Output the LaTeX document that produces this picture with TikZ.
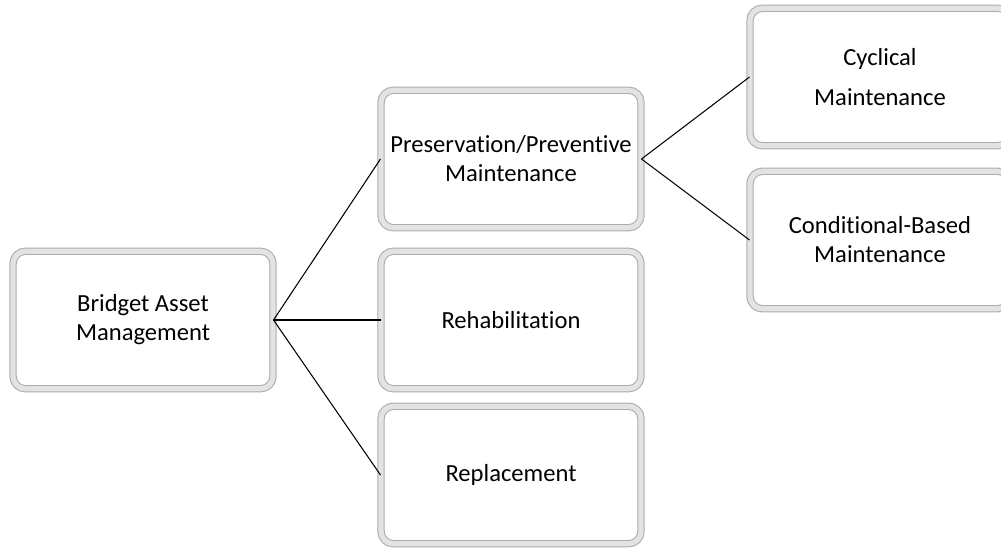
\documentclass[tikz,border=0pt]{standalone}
\usepackage{fontspec}
\setmainfont{Carlito}[Ligatures=NoCommon]
\usetikzlibrary{positioning, calc}

\begin{document}
\begin{tikzpicture}[x=0.02cm, y=-0.02cm,
    blockbox/.style={draw=gray!65, double=gray!22, double distance=3pt, line width=0.6pt,
          fill=white, rounded corners=7pt,
          minimum width=5.2cm, minimum height=2.75cm,
          font=\fontsize{14}{16.5}\selectfont, align=center}]
    \useasboundingbox (0,0) rectangle (1001,548);
    \clip (0,0) rectangle (1001,548);
    % Raiz
    \node[blockbox] (bam) at (143,320) {Bridget Asset\\Management};
    % Segundo nível
    \node[blockbox] (preserv) at (511,159) {Preservation/Preventive\\Maintenance};
    \node[blockbox] (rehab) at (511,320) {Rehabilitation};
    \node[blockbox] (replace) at (511,475) {Replacement};
    % Terceiro nível
    \node[blockbox] (cyclic) at (880,77) {Cyclical\\[6pt]Maintenance};
    \node[blockbox] (condit) at (880,240) {Conditional-Based\\Maintenance};
    % Ligações
    \foreach \child in {preserv, rehab, replace}
      \draw[black, line width=0.6pt] (bam.east) -- (\child.west);
    \foreach \child in {cyclic, condit}
      \draw[black, line width=0.6pt] (preserv.east) -- (\child.west);
\end{tikzpicture}
\end{document}
